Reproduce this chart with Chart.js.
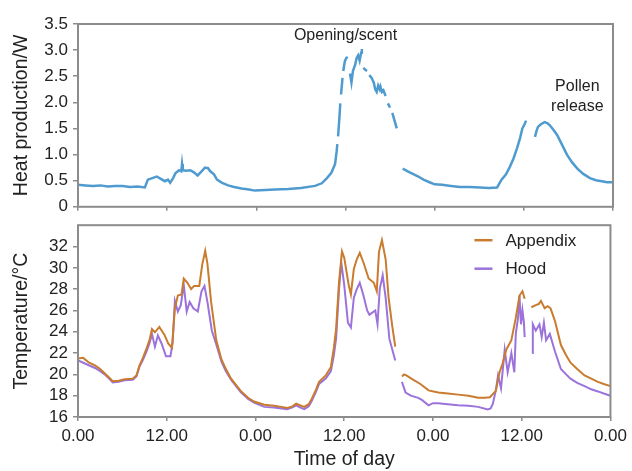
<!DOCTYPE html>
<html lang="en">
<head>
<meta charset="UTF-8">
<title>Heat production and temperature</title>
<script src="https://cdn.jsdelivr.net/npm/chart.js@4.4.1/dist/chart.umd.min.js"></script>
<style>
  body { margin: 0; background: #fff; }
  #wrap { position: relative; width: 632px; height: 471px; }
  canvas { position: absolute; left: 0; }
  #heat { top: 0; }
  #temp { top: 210px; }
</style>
</head>
<body>
<div id="wrap">
  <canvas id="heat" width="632" height="222"></canvas>
  <canvas id="temp" width="632" height="261"></canvas>
</div>
<script>
// hours since first midnight (0-72), null = gap in the record
var heatHours = [0, 1, 2, 3, 4, 5, 6, 7, 8, 9, 9.4, 10, 10.6, 11.2, 11.7, 12.1, 12.4, 12.8, 13.1, 13.6, 13.9, 14.0, 14.1, 14.5, 15.1, 15.6, 16.1, 16.5, 17.1, 17.5, 17.8,
  18.3, 18.7, 19.4, 20.2, 21, 22, 23, 23.8, 25.2, 26.5, 28.3, 30, 31.9, 32.8, 33.5, 34.1, 34.6, 34.8, 34.9, 34.95, 35.0, 35.2, 35.3, 35.35, 35.4, 35.6, 35.65,
  35.7, 35.9, 36.1, 36.3, 36.45, 36.6, 36.8, 37.0, 37.3, 37.5, 37.7, 37.9, 38.1, 38.2, 38.3, 38.4, 38.7, 38.9, 39.0, 39.2, 39.5, 39.8, 40.0, 40.2, 40.4, 40.6,
  40.7, 40.9, 41.1, 41.4, 41.5, 41.7, 42.0, 42.1, 42.3, 42.6, 42.9, 43.3, 43.7, 44.5, 45.2, 45.8, 46.5, 47.3, 48.0, 49, 50.2, 51.4, 52.7, 54.1, 55.3, 56.4,
  57, 57.6, 58.1, 58.6, 59.1, 59.5, 59.8, 60.1, 60.3, 60.9, 61.5, 61.7, 61.9, 62.3, 62.8, 63.2, 63.5, 64.0, 64.5, 65.1, 65.8, 66.5, 67.2, 68.0, 68.9, 69.7,
  70.5, 71.2, 72];
var heatW = [0.42, 0.41, 0.40, 0.41, 0.39, 0.40, 0.40, 0.38, 0.39, 0.37, 0.52, 0.55, 0.58, 0.53, 0.49, 0.52, 0.46, 0.55, 0.64, 0.70, 0.68, 0.82, 0.70, 0.69, 0.70, 0.66, 0.60, 0.66, 0.75, 0.74, 0.68,
  0.62, 0.52, 0.46, 0.41, 0.38, 0.35, 0.33, 0.31, 0.32, 0.33, 0.34, 0.36, 0.40, 0.45, 0.55, 0.65, 0.82, 1.05, 1.2, null, 1.35, 1.75, 1.98, null, 2.15, 2.47, null,
  2.6, 2.78, 2.85, 2.87, null, 2.55, 2.38, 2.6, 2.72, 2.85, 2.9, 2.8, 2.95, 3.02, null, 2.66, 2.62, 2.6, null, 2.52, 2.47, 2.38, 2.25, 2.2, 2.32, 2.25,
  2.3, 2.2, 2.23, 2.12, null, 1.98, 1.9, null, 1.8, 1.65, 1.5, null, 0.73, 0.67, 0.62, 0.58, 0.52, 0.47, 0.43, 0.42, 0.40, 0.38, 0.38, 0.37, 0.36, 0.37,
  0.52, 0.62, 0.76, 0.92, 1.13, 1.32, 1.50, 1.58, 1.65, null, 1.34, 1.45, 1.53, 1.58, 1.62, 1.60, 1.56, 1.47, 1.37, 1.2, 1.0, 0.85, 0.73, 0.63, 0.55, 0.51,
  0.49, 0.47, 0.47];

var appHours = [0, 0.7, 1.5, 2.3, 3.0, 3.6, 4.2, 4.7, 5.5, 6.3, 7.4, 7.9, 8.3, 8.8, 9.3, 9.7, 10.0, 10.4, 11.0, 11.7, 12.2, 12.7, 13.1, 13.5, 14.0, 14.3, 14.8,
  15.3, 15.7, 16.4, 16.8, 17.2, 17.5, 18.0, 18.7, 19.4, 20.0, 20.7, 22.0, 23.0, 23.8, 25.2, 26.5, 27.5, 28.3, 29.0, 29.5, 30.0, 30.6, 31.2, 31.6, 32.2, 32.6,
  33.5, 34.2, 34.6, 34.9, 35.3, 35.7, 36.0, 36.6, 36.9, 37.3, 37.7, 38.1, 38.6, 39.3, 40.0, 40.4, 40.7, 41.1, 41.6, 42.0, 42.5, 42.9, 43.3, 43.8, 44.1, 44.4,
  45.3, 46.3, 47.4, 48.7, 50, 51.4, 52.8, 54.1, 55.0, 55.7, 56.5, 57.0, 57.4, 57.9, 58.6, 59.2, 59.7, 60.1, 60.4, 60.8, 61.3, 61.9, 62.3, 62.6, 63.1, 63.5,
  63.9, 64.5, 65.3, 66.0, 66.6, 67.5, 68.5, 69.4, 70.3, 71.1, 72];
var appTemp = [21.5, 21.55, 21.1, 20.85, 20.5, 20.1, 19.7, 19.35, 19.4, 19.55, 19.6, 19.9, 20.8, 21.6, 22.5, 23.3, 24.25, 23.95, 24.45, 23.7, 22.9, 22.5, 26.2, 27.4, 27.5, 29.0, 28.6,
  28.0, 28.3, 28.3, 30.3, 31.6, 30.4, 26.8, 23.2, 21.4, 20.5, 19.6, 18.45, 17.8, 17.45, 17.15, 17.05, 16.95, 16.85, 17.0, 17.25, 17.1, 16.95, 17.2, 17.7, 18.6, 19.3,
  19.9, 20.7, 22.5, 24.25, 28.7, 31.55, 30.95, 28.4, 27.5, 29.9, 30.8, 31.4, 30.5, 29.0, 28.6, 27.8, 31.5, 32.6, 30.8, 27.2, 24.5, 22.6, null, 19.8, 20.0, 19.9,
  19.5, 19.1, 18.5, 18.3, 18.2, 18.1, 18.0, 17.8, 17.8, 17.85, 18.45, 20.2, 21.0, 22.3, 23.2, 25.3, 27.4, 27.8, 27.1, null, 26.3, 26.5, 26.6, 26.9, 26.2, 26.4,
  26.2, 25.0, 22.75, 21.8, 21.1, 20.5, 19.9, 19.6, 19.3, 19.1, 18.9];

var hoodHours = [0, 1.0, 2.3, 3.0, 3.6, 4.2, 4.7, 5.5, 6.3, 7.4, 7.9, 8.3, 8.8, 9.3, 9.7, 10.0, 10.4, 10.8, 11.3, 11.9, 12.5, 12.8, 13.1, 13.5, 13.9, 14.3, 14.7,
  15.1, 15.6, 16.2, 16.7, 17.1, 17.5, 18.1, 18.7, 19.4, 20.0, 20.7, 22.0, 23.0, 23.8, 25.2, 26.5, 28.3, 29.0, 29.5, 30.0, 30.6, 31.2, 31.6, 32.2, 32.6, 33.5,
  34.2, 34.6, 34.9, 35.3, 35.6, 36.0, 36.5, 36.9, 37.3, 37.7, 38.1, 38.6, 39.1, 39.4, 39.7, 40.2, 40.5, 40.8, 41.2, 41.6, 42.1, 42.9, 43.3, 43.8, 44.3, 45.0,
  46.0, 46.5, 47.4, 48.0, 48.7, 50, 51.4, 52.8, 54.1, 55.4, 55.8, 56.1, 56.5, 56.8, 57.2, 57.7, 58.1, 58.6, 59.0, 59.2, 59.5, 59.7, 59.9, 60.1, 60.3, 60.4,
  60.8, 61.4, 61.5, 61.9, 62.4, 62.7, 63.0, 63.3, 63.8, 64.5, 65.3, 66.0, 66.6, 67.5, 68.5, 69.4, 70.3, 71.1, 72];
var hoodTemp = [21.3, 21.0, 20.6, 20.3, 20.0, 19.6, 19.25, 19.3, 19.45, 19.5, 19.8, 20.7, 21.4, 22.2, 23.0, 23.8, 22.6, 23.65, 22.9, 21.7, 21.7, 23.0, 26.9, 25.9, 26.5, 28.4, 25.9,
  26.8, 26.2, 25.9, 27.8, 28.3, 26.8, 24.1, 22.8, 21.2, 20.3, 19.5, 18.35, 17.7, 17.35, 16.95, 16.9, 16.74, 16.9, 17.1, 16.9, 16.74, 17.0, 17.5, 18.4, 19.1, 19.6,
  20.3, 21.8, 23.35, 28.0, 30.5, 28.4, 24.85, 24.4, 27.2, 28.0, 28.6, 27.4, 26.0, 25.6, 25.75, 26.0, 24.7, 28.0, 29.3, 27.2, 23.35, 21.3, null, 19.3, 18.3, 18.0,
  17.8, 17.6, 17.1, 17.3, 17.3, 17.2, 17.1, 17.05, 16.95, 16.7, 16.8, 17.25, 18.5, 19.9, 18.7, 22.3, 20.2, 22.0, 20.2, 23.8, 25.3, 27.4, 24.7, 26.0, 24.85, 23.5,
  null, 22.0, 24.7, 24.1, 24.7, 23.5, 24.85, 23.2, 23.8, 22.15, 20.5, 20.0, 19.6, 19.2, 18.9, 18.6, 18.4, 18.2, 18.0];

var heatTicks = [0, 0.5, 1, 1.5, 2, 2.5, 3, 3.5];
var tempTicks = [16, 18, 20, 22, 24, 26, 28, 30, 32];

var FONT = "'Liberation Sans', Arial, sans-serif";
var INK = '#222';
var FRAME = '#8c8c8c';

function toPoints(xs, ys) {
  return xs.map(function (h, i) { return { x: h, y: ys[i] }; });
}

function hourLabel(v) {
  return (v % 24 === 0 ? '0' : '12') + '.00';
}

// grey box round the plot area
var framePlugin = {
  id: 'frame',
  afterDraw: function (c) {
    var a = c.chartArea, ctx = c.ctx;
    ctx.save();
    ctx.strokeStyle = FRAME;
    ctx.lineWidth = 2;
    ctx.strokeRect(a.left, a.top, a.right - a.left, a.bottom - a.top);
    ctx.restore();
  }
};

var notesPlugin = {
  id: 'notes',
  afterDraw: function (c) {
    var ctx = c.ctx, x = c.scales.x, y = c.scales.y;
    ctx.save();
    ctx.fillStyle = INK;
    ctx.font = '16px ' + FONT;
    ctx.textAlign = 'center';
    ctx.textBaseline = 'middle';
    ctx.fillText('Opening/scent', x.getPixelForValue(36), y.getPixelForValue(3.27));
    ctx.fillText('Pollen', x.getPixelForValue(67.2), y.getPixelForValue(2.3));
    ctx.fillText('release', x.getPixelForValue(67.2), y.getPixelForValue(1.92));
    ctx.restore();
  }
};

var legendPlugin = {
  id: 'legendIn',
  afterDraw: function (c) {
    var ctx = c.ctx, a = c.chartArea;
    var items = c.data.datasets;
    ctx.save();
    ctx.font = '17px ' + FONT;
    ctx.textBaseline = 'middle';
    items.forEach(function (ds, i) {
      var yy = a.top + 15 + i * 28.5;
      ctx.strokeStyle = ds.borderColor;
      ctx.lineWidth = 2.5;
      ctx.beginPath();
      ctx.moveTo(a.right - 136, yy);
      ctx.lineTo(a.right - 118, yy);
      ctx.stroke();
      ctx.fillStyle = INK;
      ctx.fillText(ds.label, a.right - 105, yy + 1);
    });
    ctx.restore();
  }
};

function yAxis(min, max, step, title, ticksList) {
  return {
    type: 'linear',
    min: min,
    max: max,
    afterFit: function (s) { s.width = 78; },
    afterBuildTicks: function (s) { s.ticks = ticksList.map(function (v) { return { value: v }; }); },
    border: { display: false },
    grid: { drawOnChartArea: false, drawTicks: true, tickLength: 5, color: FRAME, lineWidth: 1.5 },
    ticks: {
      color: INK, padding: 5, font: { family: FONT, size: 17 },
      callback: function (v) { return step < 1 ? (v === 0 ? '0' : v.toFixed(1)) : String(v); }
    },
    title: { display: true, text: title, color: INK, font: { family: FONT, size: 19.5 }, padding: { top: 10, bottom: 0 } }
  };
}

Chart.defaults.font.family = FONT;

new Chart(document.getElementById('heat').getContext('2d'), {
  type: 'line',
  data: {
    datasets: [{
      label: 'Heat production',
      data: toPoints(heatHours, heatW),
      borderColor: '#4f9bd0',
      borderWidth: 2.5,
      pointRadius: 0,
      tension: 0
    }]
  },
  options: {
    responsive: false,
    animation: false,
    layout: { padding: { top: 24, right: 19, left: 0, bottom: 0 } },
    plugins: { legend: { display: false }, tooltip: { enabled: false } },
    scales: {
      x: {
        type: 'linear', min: 0, max: 72,
        afterFit: function (s) { s.height = 7; },
        border: { display: false },
        grid: { drawOnChartArea: false, drawTicks: true, tickLength: 4, color: FRAME, lineWidth: 1.5 },
        ticks: { display: false, stepSize: 12 }
      },
      y: yAxis(0, 3.5, 0.5, 'Heat production/W', heatTicks)
    }
  },
  plugins: [framePlugin, notesPlugin]
});

new Chart(document.getElementById('temp').getContext('2d'), {
  type: 'line',
  data: {
    datasets: [{
      label: 'Appendix',
      data: toPoints(appHours, appTemp),
      borderColor: '#c97b2e',
      borderWidth: 2,
      pointRadius: 0,
      tension: 0
    }, {
      label: 'Hood',
      data: toPoints(hoodHours, hoodTemp),
      borderColor: '#9b73da',
      borderWidth: 2,
      pointRadius: 0,
      tension: 0
    }]
  },
  options: {
    responsive: false,
    animation: false,
    layout: { padding: { top: 6, right: 19, left: 0, bottom: 0 } },
    plugins: { legend: { display: false }, tooltip: { enabled: false } },
    scales: {
      x: {
        type: 'linear', min: 0, max: 72,
        afterFit: function (s) { s.height = 54; },
        border: { display: false },
        grid: { drawOnChartArea: false, drawTicks: true, tickLength: 4, color: FRAME, lineWidth: 1.5 },
        ticks: { stepSize: 12, color: INK, padding: 5, maxRotation: 0, font: { family: FONT, size: 17 }, callback: hourLabel },
        title: { display: true, text: 'Time of day', color: INK, font: { family: FONT, size: 19.5 }, padding: { top: 0, bottom: 0 } }
      },
      y: yAxis(16, 34, 2, 'Temperature/\u00B0C', tempTicks)
    }
  },
  plugins: [framePlugin, legendPlugin]
});
</script>
</body>
</html>
